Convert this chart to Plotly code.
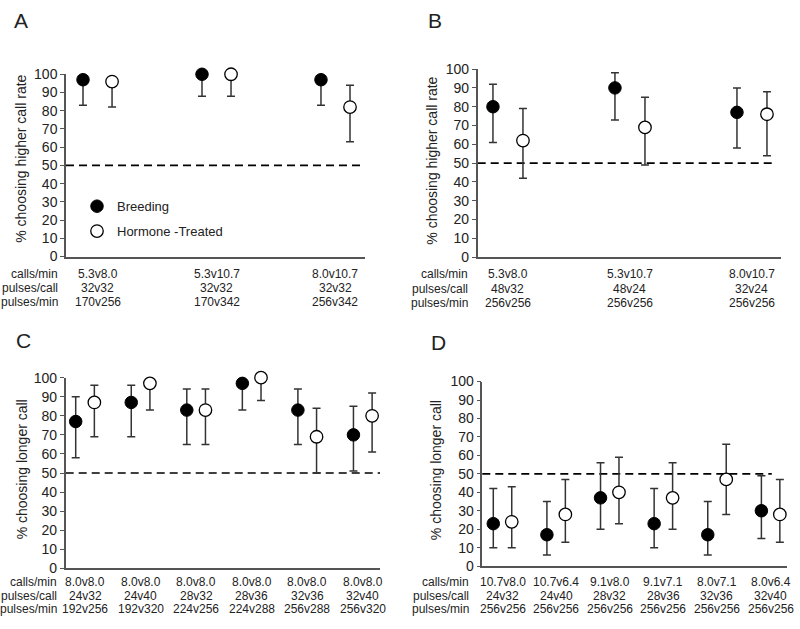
import plotly.graph_objects as go

# ---------------- data ----------------
A_calls = ["5.3v8.0", "5.3v10.7", "8.0v10.7"]
A_pcall = ["32v32", "32v32", "32v32"]
A_pmin = ["170v256", "170v342", "256v342"]
A_breed = [97, 100, 97]
A_breed_hi = [97, 100, 97]
A_breed_lo = [83, 88, 83]
A_horm = [96, 100, 82]
A_horm_hi = [96, 100, 94]
A_horm_lo = [82, 88, 63]

B_calls = ["5.3v8.0", "5.3v10.7", "8.0v10.7"]
B_pcall = ["48v32", "48v24", "32v24"]
B_pmin = ["256v256", "256v256", "256v256"]
B_breed = [80, 90, 77]
B_breed_hi = [92, 98, 90]
B_breed_lo = [61, 73, 58]
B_horm = [62, 69, 76]
B_horm_hi = [79, 85, 88]
B_horm_lo = [42, 49, 54]

C_calls = ["8.0v8.0", "8.0v8.0", "8.0v8.0", "8.0v8.0", "8.0v8.0", "8.0v8.0"]
C_pcall = ["24v32", "24v40", "28v32", "28v36", "32v36", "32v40"]
C_pmin = ["192v256", "192v320", "224v256", "224v288", "256v288", "256v320"]
C_breed = [77, 87, 83, 97, 83, 70]
C_breed_hi = [90, 96, 94, 97, 94, 85]
C_breed_lo = [58, 69, 65, 83, 65, 51]
C_horm = [87, 97, 83, 100, 69, 80]
C_horm_hi = [96, 97, 94, 100, 84, 92]
C_horm_lo = [69, 83, 65, 88, 50, 61]

D_calls = ["10.7v8.0", "10.7v6.4", "9.1v8.0", "9.1v7.1", "8.0v7.1", "8.0v6.4"]
D_pcall = ["24v32", "24v40", "28v32", "28v36", "32v36", "32v40"]
D_pmin = ["256v256", "256v256", "256v256", "256v256", "256v256", "256v256"]
D_breed = [23, 17, 37, 23, 17, 30]
D_breed_hi = [42, 35, 56, 42, 35, 49]
D_breed_lo = [10, 6, 20, 10, 6, 15]
D_horm = [24, 28, 40, 37, 47, 28]
D_horm_hi = [43, 47, 59, 56, 66, 47]
D_horm_lo = [10, 13, 23, 20, 28, 13]

ROW_HEADERS = ["calls/min", "pulses/call", "pulses/min"]
SERIES = ["Breeding", "Hormone -Treated"]
CHANCE = 50
Y_TICKS = [0, 10, 20, 30, 40, 50, 60, 70, 80, 90, 100]

# ---------------- layout helpers ----------------
W, H = 800, 629
FONT = "Liberation Sans, Arial, sans-serif"
TXT = "#222222"
AX = "#555555"


def px(xp):
    return xp / W


def py(yp):
    return 1 - yp / H


panels = [
    dict(letter="A", ax="", calls=A_calls, pcall=A_pcall, pmin=A_pmin,
         b=A_breed, bhi=A_breed_hi, blo=A_breed_lo,
         h=A_horm, hhi=A_horm_hi, hlo=A_horm_lo,
         xd=(66, 365), yd=(255, 68), xr=(-0.265, 2.248), off=0.122,
         rows=(273, 287, 301.7), hdr_x=60, title="% choosing higher call rate",
         tpos=(20.7, 155), lpos=(12, 13), dash_end=1.0, legend=True),
    dict(letter="B", ax="2", calls=B_calls, pcall=B_pcall, pmin=B_pmin,
         b=B_breed, bhi=B_breed_hi, blo=B_breed_lo,
         h=B_horm, hhi=B_horm_hi, hlo=B_horm_lo,
         xd=(477.7, 781), yd=(255.7, 62.7), xr=(-0.248, 2.238), off=0.123,
         rows=(273, 288, 302.5), hdr_x=470, title="% choosing higher call rate",
         tpos=(431.7, 157), lpos=(426, 13), dash_end=0.984, legend=False),
    dict(letter="C", ax="3", calls=C_calls, pcall=C_pcall, pmin=C_pmin,
         b=C_breed, bhi=C_breed_hi, blo=C_breed_lo,
         h=C_horm, hhi=C_horm_hi, hlo=C_horm_lo,
         xd=(65.7, 380), yd=(575, 379.3), xr=(-0.348, 5.31), off=0.168,
         rows=(589, 603, 617), hdr_x=59, title="% choosing longer call",
         tpos=(21.7, 473.7), lpos=(14, 341), dash_end=1.0, legend=False),
    dict(letter="D", ax="4", calls=D_calls, pcall=D_pcall, pmin=D_pmin,
         b=D_breed, bhi=D_breed_hi, blo=D_breed_lo,
         h=D_horm, hhi=D_horm_hi, hlo=D_horm_lo,
         xd=(482.3, 786.7), yd=(572.7, 383.3), xr=(-0.377, 5.30), off=0.172,
         rows=(589, 603, 617), hdr_x=471, title="% choosing longer call",
         tpos=(436.7, 474.5), lpos=(429, 343), dash_end=0.951, legend=False),
]

fig = go.Figure()
annotations = []
shapes = []
layout_axes = {}

for p in panels:
    xa = "x" + p["ax"]
    ya = "y" + p["ax"]
    n = len(p["b"])
    xb = [i - p["off"] for i in range(n)]
    xh = [i + p["off"] for i in range(n)]
    err_style = dict(type="data", symmetric=False, color="#333333", thickness=1.5, width=4)
    fig.add_trace(go.Scatter(
        x=xb, y=p["b"], mode="markers", name=SERIES[0], xaxis=xa, yaxis=ya,
        marker=dict(size=12.5, color="black", line=dict(color="black", width=1)),
        error_y=dict(array=[hi - v for hi, v in zip(p["bhi"], p["b"])],
                     arrayminus=[v - lo for v, lo in zip(p["b"], p["blo"])], **err_style),
        cliponaxis=False, showlegend=p["legend"], legendgroup="b"))
    fig.add_trace(go.Scatter(
        x=xh, y=p["h"], mode="markers", name=SERIES[1], xaxis=xa, yaxis=ya,
        marker=dict(size=12.5, color="white", line=dict(color="black", width=1.3)),
        error_y=dict(array=[hi - v for hi, v in zip(p["hhi"], p["h"])],
                     arrayminus=[v - lo for v, lo in zip(p["h"], p["hlo"])], **err_style),
        cliponaxis=False, showlegend=p["legend"], legendgroup="h"))

    xname = "xaxis" + p["ax"]
    yname = "yaxis" + p["ax"]
    layout_axes[xname] = dict(
        domain=[px(p["xd"][0]), px(p["xd"][1])], range=list(p["xr"]),
        anchor=ya, showline=True, linecolor=AX, linewidth=1.5,
        showticklabels=False, ticks="", showgrid=False, zeroline=False, fixedrange=True)
    layout_axes[yname] = dict(
        domain=[py(p["yd"][0]), py(p["yd"][1])], range=[0, 100],
        anchor=xa, showline=True, linecolor=AX, linewidth=1.5,
        tickvals=Y_TICKS, ticks="outside", ticklen=4, tickcolor=AX, tickwidth=1.2,
        tickfont=dict(size=14, color=TXT, family=FONT),
        showgrid=False, zeroline=False, fixedrange=True)

    # chance line
    shapes.append(dict(type="line", xref=xa + " domain", yref=ya, x0=0, x1=p["dash_end"],
                       y0=CHANCE, y1=CHANCE, layer="below",
                       line=dict(color="black", width=1.6, dash="8px,5px")))

    # category label rows
    for r, (row, rowvals) in enumerate(zip(ROW_HEADERS, [p["calls"], p["pcall"], p["pmin"]])):
        yr = py(p["rows"][r])
        annotations.append(dict(text=row, xref="paper", yref="paper", x=px(p["hdr_x"]), y=yr,
                                xanchor="right", yanchor="middle", showarrow=False,
                                font=dict(size=12, color=TXT, family=FONT)))
        for i, t in enumerate(rowvals):
            annotations.append(dict(text=t, xref=xa, yref="paper", x=i, y=yr,
                                    xanchor="center", yanchor="middle", showarrow=False,
                                    font=dict(size=12, color=TXT, family=FONT)))

    # y title
    annotations.append(dict(text=p["title"], xref="paper", yref="paper",
                            x=px(p["tpos"][0]), y=py(p["tpos"][1]), textangle=-90,
                            xanchor="center", yanchor="middle", showarrow=False,
                            font=dict(size=14, color=TXT, family=FONT)))
    # panel letter
    annotations.append(dict(text=p["letter"], xref="paper", yref="paper",
                            x=px(p["lpos"][0]), y=py(p["lpos"][1]),
                            xanchor="left", yanchor="middle", showarrow=False,
                            font=dict(size=21, color=TXT, family=FONT)))

fig.update_layout(
    width=W, height=H, margin=dict(l=0, r=0, t=0, b=0),
    paper_bgcolor="white", plot_bgcolor="rgba(0,0,0,0)",
    font=dict(family=FONT, color=TXT),
    annotations=annotations, shapes=shapes,
    legend=dict(x=px(77), y=py(188), xanchor="left", yanchor="top",
                font=dict(size=13, color=TXT, family=FONT),
                bgcolor="rgba(0,0,0,0)", tracegroupgap=5, itemsizing="trace"),
    **layout_axes,
)

fig.write_html(
    "out.html",
    config={"displayModeBar": False},
    post_script="document.body.style.margin='0px';document.body.style.padding='0px';",
)
